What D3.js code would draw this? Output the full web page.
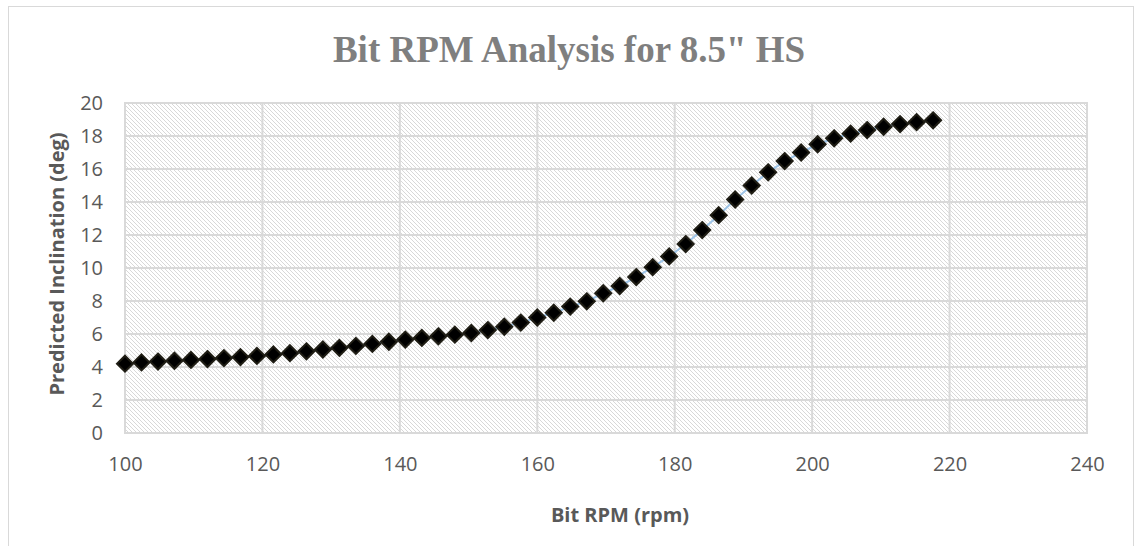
<!DOCTYPE html>
<html>
<head>
<meta charset="utf-8">
<script src="https://cdn.jsdelivr.net/npm/d3@7"></script>
<style>
  html, body { margin: 0; padding: 0; background: #fff; }
  svg { display: block; }
</style>
</head>
<body>
<div id="chart"></div>
<script>
// chart values
var titleText = 'Bit RPM Analysis for 8.5" HS';
var xLabel = "Bit RPM (rpm)";
var yLabel = "Predicted Inclination (deg)";
var xTicks = [100, 120, 140, 160, 180, 200, 220, 240];
var yTicks = [0, 2, 4, 6, 8, 10, 12, 14, 16, 18, 20];

var rpm = [100, 102.4, 104.8, 107.2, 109.6, 112, 114.4, 116.8, 119.2, 121.6,
           124, 126.4, 128.8, 131.2, 133.6, 136, 138.4, 140.8, 143.2, 145.6,
           148, 150.4, 152.8, 155.2, 157.6, 160, 162.4, 164.8, 167.2, 169.6,
           172, 174.4, 176.8, 179.2, 181.6, 184, 186.4, 188.8, 191.2, 193.6,
           196, 198.4, 200.8, 203.2, 205.6, 208, 210.4, 212.8, 215.2, 217.6];
var inclination = [4.2, 4.28, 4.33, 4.38, 4.43, 4.48, 4.54, 4.6, 4.67, 4.76,
                   4.84, 4.95, 5.06, 5.16, 5.28, 5.4, 5.53, 5.66, 5.76, 5.86,
                   5.96, 6.06, 6.24, 6.44, 6.69, 7.0, 7.29, 7.66, 7.98, 8.47,
                   8.91, 9.45, 10.05, 10.7, 11.45, 12.3, 13.2, 14.15, 15.0, 15.8,
                   16.48, 17.0, 17.5, 17.86, 18.14, 18.36, 18.56, 18.72, 18.84, 18.95];

var W = 1135, H = 546;
var plot = {left: 125, top: 103, right: 1087, bottom: 433};

var svg = d3.select("#chart").append("svg")
    .attr("width", W)
    .attr("height", H);

// hatch pattern for the plot area
var defs = svg.append("defs");
var hatch = defs.append("pattern")
    .attr("id", "hatch")
    .attr("patternUnits", "userSpaceOnUse")
    .attr("width", 4)
    .attr("height", 4);
hatch.append("rect").attr("width", 4).attr("height", 4).attr("fill", "#fff");
hatch.append("path")
    .attr("d", "M-1,-1 L5,5 M-1,3 L1,5 M3,-1 L5,1")
    .attr("stroke", "#d8d8d8")
    .attr("stroke-width", 1);

// outer chart border
svg.append("rect")
    .attr("x", 8.5).attr("y", 6.5)
    .attr("width", 1125).attr("height", 600)
    .attr("fill", "#fff")
    .attr("stroke", "#d9d9d9")
    .attr("stroke-width", 1);

var x = d3.scaleLinear().domain([100, 240]).range([plot.left, plot.right]);
var y = d3.scaleLinear().domain([0, 20]).range([plot.bottom, plot.top]);

svg.append("rect")
    .attr("x", plot.left).attr("y", plot.top)
    .attr("width", plot.right - plot.left)
    .attr("height", plot.bottom - plot.top)
    .attr("fill", "url(#hatch)");

// gridlines
var grid = svg.append("g");
grid.selectAll("line.h").data(yTicks).enter().append("line")
    .attr("x1", plot.left - 1).attr("x2", plot.right + 1)
    .attr("y1", function(d) { return y(d); })
    .attr("y2", function(d) { return y(d); })
    .attr("stroke", "#d9d9d9").attr("stroke-width", 2);
grid.selectAll("line.v").data(xTicks).enter().append("line")
    .attr("y1", plot.top).attr("y2", plot.bottom)
    .attr("x1", function(d) { return x(d); })
    .attr("x2", function(d) { return x(d); })
    .attr("stroke", "#d9d9d9").attr("stroke-width", 2);

// axes (labels only)
var axisX = svg.append("g")
    .attr("transform", "translate(0," + plot.bottom + ")")
    .call(d3.axisBottom(x).tickValues(xTicks).tickSize(0).tickPadding(24).tickFormat(d3.format("d")));
var axisY = svg.append("g")
    .attr("transform", "translate(" + (plot.left - 22) + ",0)")
    .call(d3.axisLeft(y).tickValues(yTicks).tickSize(0).tickPadding(0).tickFormat(d3.format("d")));

[axisX, axisY].forEach(function(a) {
    a.select(".domain").remove();
    a.selectAll("text")
        .style("font-family", "'Open Sans', sans-serif")
        .style("font-size", "20px")
        .attr("fill", "#595959");
});

// connecting line
var line = d3.line()
    .x(function(d, i) { return x(rpm[i]); })
    .y(function(d) { return y(d); });

svg.append("path")
    .datum(inclination)
    .attr("d", line)
    .attr("fill", "none")
    .attr("stroke", "#9dc3e6")
    .attr("stroke-width", 2);

// diamond markers
var r = 8;
svg.append("g").selectAll("path.marker")
    .data(inclination)
    .enter().append("path")
    .attr("class", "marker")
    .attr("transform", function(d, i) { return "translate(" + x(rpm[i]) + "," + y(d) + ")"; })
    .attr("d", "M0," + (-r) + "L" + r + ",0L0," + r + "L" + (-r) + ",0Z")
    .attr("fill", "#000")
    .attr("stroke", "#1f1d14")
    .attr("stroke-width", 2);

// title
svg.append("text")
    .attr("x", 569)
    .attr("y", 62)
    .attr("text-anchor", "middle")
    .style("font-family", "'Liberation Serif', serif")
    .style("font-weight", "bold")
    .style("font-size", "37px")
    .attr("fill", "#7f7f7f")
    .text(titleText);

// axis titles
svg.append("text")
    .attr("x", 620)
    .attr("y", 522)
    .attr("text-anchor", "middle")
    .style("font-family", "'Open Sans', sans-serif")
    .style("font-weight", "bold")
    .style("font-size", "20px")
    .attr("fill", "#595959")
    .text(xLabel);

svg.append("text")
    .attr("transform", "translate(64,264) rotate(-90)")
    .attr("text-anchor", "middle")
    .style("font-family", "'Open Sans', sans-serif")
    .style("font-weight", "bold")
    .style("font-size", "20px")
    .attr("fill", "#595959")
    .text(yLabel);
</script>
</body>
</html>
